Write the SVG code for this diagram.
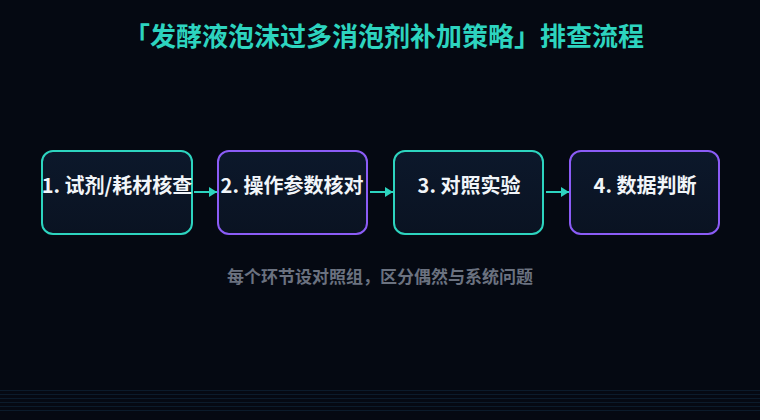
<svg xmlns="http://www.w3.org/2000/svg" width="760" height="420" viewBox="0 0 760 420">
<defs>
<linearGradient id="boxfill" x1="0" y1="0" x2="0" y2="1">
<stop offset="0" stop-color="#0c182b"/>
<stop offset="1" stop-color="#0a1322"/>
</linearGradient>
<marker id="arrow" viewBox="0 0 8 10" refX="8" refY="5" markerWidth="8" markerHeight="10" orient="auto" markerUnits="userSpaceOnUse">
<path d="M0,0 L8,5 L0,10 z" fill="#2dd4bf"/>
</marker>
<style>
.box{fill:url(#boxfill);stroke-width:2}
.teal{stroke:#2dd4bf}
.purple{stroke:#8b5cf6}
.lbl{font-family:"Noto Sans CJK SC","Noto Sans",sans-serif;font-size:20px;font-weight:700;fill:#f1f5f9;text-anchor:middle}
.conn{stroke:#2dd4bf;stroke-width:2;fill:none}
.grid{stroke:#10283c;stroke-width:1;opacity:0.6}
</style>
</defs>
<rect width="760" height="420" fill="#050912"/>
<g id="gridlines">
<line class="grid" x1="0" y1="390.5" x2="760" y2="390.5"/>
<line class="grid" x1="0" y1="394.5" x2="760" y2="394.5"/>
<line class="grid" x1="0" y1="398.5" x2="760" y2="398.5"/>
<line class="grid" x1="0" y1="402.5" x2="760" y2="402.5"/>
<line class="grid" x1="0" y1="406.5" x2="760" y2="406.5"/>
<line class="grid" x1="0" y1="410.5" x2="760" y2="410.5"/>
</g>
<text id="title" x="384" y="46" font-family="Noto Sans CJK SC,Noto Sans,sans-serif" font-size="26" font-weight="700" fill="#2dd4bf" text-anchor="middle">「发酵液泡沫过多消泡剂补加策略」排查流程</text>
<g id="connectors">
<line class="conn" x1="194" y1="192" x2="217" y2="192" marker-end="url(#arrow)"/>
<line class="conn" x1="370" y1="192" x2="393" y2="192" marker-end="url(#arrow)"/>
<line class="conn" x1="546" y1="192" x2="569" y2="192" marker-end="url(#arrow)"/>
</g>
<g id="node1">
<rect class="box teal" x="42" y="151" width="150" height="83" rx="11"/>
<text class="lbl" x="117" y="193">1. 试剂/耗材核查</text>
</g>
<g id="node2">
<rect class="box purple" x="218" y="151" width="149" height="83" rx="11"/>
<text class="lbl" x="292" y="193">2. 操作参数核对</text>
</g>
<g id="node3">
<rect class="box teal" x="394" y="151" width="149" height="83" rx="11"/>
<text class="lbl" x="469" y="193">3. 对照实验</text>
</g>
<g id="node4">
<rect class="box purple" x="570" y="151" width="149" height="83" rx="11"/>
<text class="lbl" x="645" y="193">4. 数据判断</text>
</g>
<text id="note" x="380" y="283" font-family="Noto Sans CJK SC,Noto Sans,sans-serif" font-size="17" font-weight="700" fill="#6b7280" text-anchor="middle">每个环节设对照组，区分偶然与系统问题</text>
</svg>
